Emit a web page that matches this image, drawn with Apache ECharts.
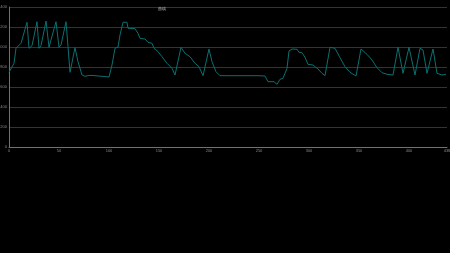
<!DOCTYPE html>
<html><head><meta charset="utf-8">
<script src="https://cdn.jsdelivr.net/npm/echarts@6/dist/echarts.min.js"></script>
<style>html,body{margin:0;padding:0;background:#000;}#c{width:450px;height:253px;}</style>
</head><body><div id="c"></div>
<script>
const titleText = '曲线';
const xIdx = [0,2,5,7,9,12,18,20,23,28,30,32,37,40,42,47,50,52,57,59,61,66,69,71,73,76,81,86,93,100,103,106,109,111,114,118,119,126,129,131,136,139,143,145,149,153,158,163,166,172,176,181,186,190,194,200,203,207,211,216,233,249,256,259,265,268,271,274,278,280,283,288,290,293,296,299,304,309,313,316,321,326,331,336,341,347,352,358,363,368,373,378,384,389,394,400,406,411,414,418,424,428,433,437];
const yVal = [747,753,837,987,1003,1037,1247,987,1013,1253,987,1013,1260,997,1017,1253,997,1020,1253,1003,747,993,853,843,720,707,717,713,707,700,820,987,1000,1120,1247,1247,1187,1183,1137,1087,1080,1047,1037,987,953,903,837,787,720,997,937,903,837,803,713,980,853,753,713,713,713,713,710,653,653,627,677,687,787,960,980,977,947,943,897,827,820,780,737,713,997,987,893,803,747,710,980,927,870,793,743,727,720,997,737,997,720,987,970,737,980,737,720,727];
const xMax = 438;
const chart = echarts.init(document.getElementById('c'));
chart.setOption({
  backgroundColor: '#000',
  animation: false,
  title: { text: titleText, left: 153, top: 2, textStyle: { color: '#bbb', fontSize: 4, fontWeight: 'normal' } },
  grid: { left: 9, right: 3, top: 7, bottom: 106, containLabel: false, outerBoundsMode: 'none' },
  xAxis: {
    type: 'value', min: 0, max: xMax, interval: 50,
    axisLine: { lineStyle: { color: '#7d7d12', width: 1 } },
    axisTick: { show: false },
    splitLine: { show: false },
    axisLabel: { color: '#888', fontSize: 4, margin: 2, formatter: v => String(v) }
  },
  yAxis: {
    type: 'value', min: 0, max: 1400, interval: 200,
    axisLine: { show: true, lineStyle: { color: '#7d7d12', width: 1 } },
    axisTick: { show: false },
    splitLine: { lineStyle: { color: '#333', width: 1 } },
    axisLabel: { color: '#888', fontSize: 4, margin: 2, formatter: v => String(v) }
  },
  series: [{
    type: 'line', showSymbol: false,
    data: xIdx.map((x, i) => [x, yVal[i]]),
    lineStyle: { color: '#0b7070', width: 1 }
  }]
});
</script></body></html>
